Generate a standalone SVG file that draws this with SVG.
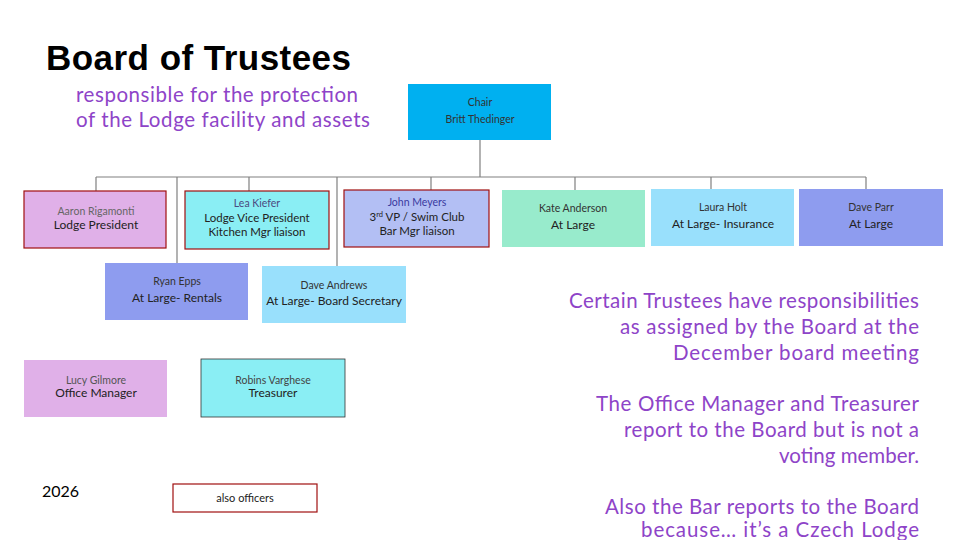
<svg xmlns="http://www.w3.org/2000/svg" width="960" height="540" viewBox="0 0 960 540">
<style>
text{font-family:"Lato","Liberation Sans",sans-serif;text-anchor:middle;fill:#222}
.n{font-size:10.5px;fill:#333}
.r{font-size:12px}
.s{font-size:11.5px}
.o{stroke:#a01010;stroke-width:1.2}
.p{fill:#8e44c8;font-size:20.5px}
.c{stroke:#808080;stroke-width:1.2;fill:none}
</style>
<rect width="960" height="540" fill="#fff"/>
<text x="46" y="70" textLength="305" style="font-family:'Liberation Sans',Arial,sans-serif;font-weight:bold;font-size:35px;text-anchor:start;fill:#000">Board of Trustees</text>
<text x="76" y="102" class="p" textLength="282" style="text-anchor:start">responsible for the protection</text>
<text x="76" y="127" class="p" textLength="294" style="text-anchor:start">of the Lodge facility and assets</text>
<g id="connectors" class="c">
<path d="M480 140V177M96 177H866M96 177V191M177 177V263M249 177V191M337 177V266M431 177V190M575 177V190M711 177V189M866 177V189"/>
</g>
<g id="chair"><rect x="408" y="84" width="143" height="56" fill="#00b0f0"/><text x="480" y="106" class="n">Chair</text><text x="480" y="123" class="n">Britt Thedinger</text></g>
<g id="aaron"><rect x="24" y="191" width="142" height="57" fill="#e0b0e8" class="o"/><text x="96" y="215" class="n" style="fill:#666">Aaron Rigamonti</text><text x="96" y="229" class="r">Lodge President</text></g>
<g id="lea"><rect x="185" y="191" width="144" height="58" fill="#8aeef4" class="o"/><text x="257" y="207" class="n" style="fill:#4a4a80">Lea Kiefer</text><text x="257" y="222" class="s">Lodge Vice President</text><text x="257" y="236" class="s">Kitchen Mgr liaison</text></g>
<g id="john"><rect x="344" y="190" width="145" height="57" fill="#b3bff4" class="o"/><text x="417" y="206" class="n" style="fill:#3a3aa0">John Meyers</text><text x="417" y="221" class="s">3<tspan font-size="7.5" dy="-4">rd</tspan><tspan dy="4"> VP / Swim Club</tspan></text><text x="417" y="235" class="s">Bar Mgr liaison</text></g>
<g id="kate"><rect x="502" y="190" width="143" height="57" fill="#98ebcc"/><text x="573" y="212" class="n">Kate Anderson</text><text x="573" y="229" class="r">At Large</text></g>
<g id="laura"><rect x="651" y="189" width="143" height="57" fill="#99e0fc"/><text x="723" y="211" class="n">Laura Holt</text><text x="723" y="228" class="r">At Large- Insurance</text></g>
<g id="daveparr"><rect x="799" y="189" width="144" height="57" fill="#8e9cef"/><text x="871" y="211" class="n">Dave Parr</text><text x="871" y="228" class="r">At Large</text></g>
<g id="ryan"><rect x="105" y="263" width="143" height="57" fill="#8e9cef"/><text x="177" y="285" class="n">Ryan Epps</text><text x="177" y="302" class="r">At Large- Rentals</text></g>
<g id="daveandrews"><rect x="262" y="266" width="144" height="57" fill="#99e0fc"/><text x="334" y="289" class="n">Dave Andrews</text><text x="334" y="305" class="r">At Large- Board Secretary</text></g>
<g id="lucy"><rect x="24" y="360" width="143" height="57" fill="#e0b0e8"/><text x="96" y="384" class="n" style="fill:#555">Lucy Gilmore</text><text x="96" y="397" class="r">Office Manager</text></g>
<g id="robins"><rect x="201" y="359" width="144" height="58" fill="#8aeef4" stroke="#333" stroke-width="0.8"/><text x="273" y="384" class="n" style="fill:#444">Robins Varghese</text><text x="273" y="397" class="r">Treasurer</text></g>
<g id="alsoofficers"><rect x="173" y="484" width="144" height="28" fill="#fff" class="o"/><text x="245" y="502" style="font-size:11px">also officers</text></g>
<text x="42" y="497" style="text-anchor:start;font-size:16px;fill:#000">2026</text>
<g>
<text x="569" y="308" class="p" textLength="350" style="text-anchor:start">Certain Trustees have responsibilities</text>
<text x="620" y="334" class="p" textLength="299" style="text-anchor:start">as assigned by the Board at the</text>
<text x="673" y="360" class="p" textLength="246" style="text-anchor:start">December board meeting</text>
<text x="596" y="411" class="p" textLength="323" style="text-anchor:start">The Office Manager and Treasurer</text>
<text x="624" y="437" class="p" textLength="295" style="text-anchor:start">report to the Board but is not a</text>
<text x="919" y="463" class="p" style="text-anchor:end">voting member.</text>
<text x="605" y="514" class="p" textLength="314" style="text-anchor:start">Also the Bar reports to the Board</text>
<text x="641" y="537" class="p" textLength="278" style="text-anchor:start">because… it’s a Czech Lodge</text>
</g>
</svg>
